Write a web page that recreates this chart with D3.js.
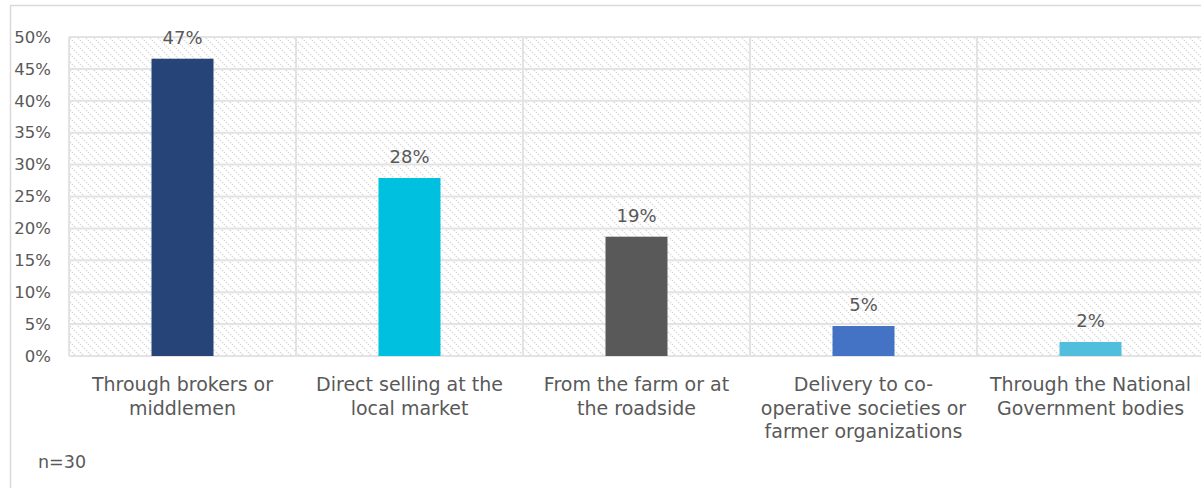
<!DOCTYPE html>
<html>
<head>
<meta charset="utf-8">
<script src="https://cdn.jsdelivr.net/npm/d3@7"></script>
<style>
  html, body { margin: 0; padding: 0; background: #ffffff; }
  svg { display: block; font-family: "DejaVu Sans", Verdana, sans-serif; }
</style>
</head>
<body>
<svg id="chart" width="1201" height="488"></svg>
<script>
// Sales channels reported by respondents (share of respondents)
const categories = [
  ["Through brokers or", "middlemen"],
  ["Direct selling at the", "local market"],
  ["From the farm or at", "the roadside"],
  ["Delivery to co-", "operative societies or", "farmer organizations"],
  ["Through the National", "Government bodies"]
];
const shares = [0.466, 0.279, 0.187, 0.047, 0.022];
const barColors = ["#264478", "#00C0E0", "#595959", "#4472C4", "#52BEDE"];
const yTicks = [0, 0.05, 0.10, 0.15, 0.20, 0.25, 0.30, 0.35, 0.40, 0.45, 0.50];
const sampleNote = "n=30";

const svg = d3.select("#chart");
const W = 1201, H = 488;
const plot = { left: 69, right: 1204, top: 37, bottom: 356 };
const textColor = "#595959";
const gridColor = "#e3e3e3";

// hatched plot background: dashed downward diagonals
const defs = svg.append("defs");
const pat = defs.append("pattern")
  .attr("id", "hatch")
  .attr("patternUnits", "userSpaceOnUse")
  .attr("width", 8).attr("height", 8);
pat.append("rect").attr("width", 8).attr("height", 8).attr("fill", "#ffffff");
pat.append("path")
  .attr("d", "M0,0 L8,8 M-4,4 L0,8 M4,-4 L12,4 M-8,0 L0,8 M8,-8 L16,0")
  .attr("stroke", "#dadada")
  .attr("stroke-width", 1.5)
  .attr("stroke-dasharray", "1.5,1.3");

// outer chart frame
svg.append("rect")
  .attr("x", 10.5).attr("y", 5.5)
  .attr("width", W + 20).attr("height", H + 20)
  .attr("fill", "none")
  .attr("stroke", "#d9d9d9")
  .attr("stroke-width", 1.5);

const x = d3.scaleBand()
  .domain(d3.range(categories.length))
  .range([plot.left, plot.right])
  .paddingInner(0).paddingOuter(0);

const y = d3.scaleLinear().domain([0, 0.5]).range([plot.bottom, plot.top]);

svg.append("rect")
  .attr("x", plot.left).attr("y", plot.top)
  .attr("width", plot.right - plot.left)
  .attr("height", plot.bottom - plot.top)
  .attr("fill", "url(#hatch)");

// horizontal gridlines
svg.append("g")
  .selectAll("line")
  .data(yTicks)
  .join("line")
  .attr("x1", plot.left).attr("x2", plot.right)
  .attr("y1", d => y(d)).attr("y2", d => y(d))
  .attr("stroke", gridColor)
  .attr("stroke-width", 2);

// vertical dividers between categories
svg.append("g")
  .selectAll("line")
  .data(d3.range(categories.length + 1))
  .join("line")
  .attr("x1", i => plot.left + i * x.bandwidth())
  .attr("x2", i => plot.left + i * x.bandwidth())
  .attr("y1", plot.top).attr("y2", plot.bottom)
  .attr("stroke", gridColor)
  .attr("stroke-width", 2);

// y axis tick labels
const yAxis = d3.axisLeft(y)
  .tickValues(yTicks)
  .tickFormat(d3.format(".0%"))
  .tickSize(0)
  .tickPadding(0);
const gy = svg.append("g")
  .attr("transform", `translate(51,0)`)
  .call(yAxis);
gy.select(".domain").remove();
gy.selectAll("text")
  .attr("fill", textColor)
  .attr("font-size", 16.5)
  .attr("font-family", "DejaVu Sans, Verdana, sans-serif");

// bars
const barW = 62;
svg.append("g")
  .selectAll("rect")
  .data(shares)
  .join("rect")
  .attr("x", (d, i) => x(i) + x.bandwidth() / 2 - barW / 2)
  .attr("y", d => y(d))
  .attr("width", barW)
  .attr("height", d => y(0) - y(d))
  .attr("fill", (d, i) => barColors[i]);

// value labels
svg.append("g")
  .selectAll("text")
  .data(shares)
  .join("text")
  .attr("x", (d, i) => x(i) + x.bandwidth() / 2)
  .attr("y", d => y(d) - 15)
  .attr("text-anchor", "middle")
  .attr("fill", textColor)
  .attr("font-size", 18)
  .text(d => d3.format(".0%")(d));

// category labels
const catG = svg.append("g");
categories.forEach((lines, i) => {
  const t = catG.append("text")
    .attr("x", x(i) + x.bandwidth() / 2)
    .attr("y", 391)
    .attr("text-anchor", "middle")
    .attr("fill", textColor)
    .attr("font-size", 19);
  lines.forEach((ln, j) => {
    t.append("tspan")
      .attr("x", x(i) + x.bandwidth() / 2)
      .attr("dy", j === 0 ? 0 : 23.5)
      .text(ln);
  });
});

// sample size note
svg.append("text")
  .attr("x", 38).attr("y", 468)
  .attr("fill", textColor)
  .attr("font-size", 17.5)
  .text(sampleNote);
</script>
</body>
</html>
